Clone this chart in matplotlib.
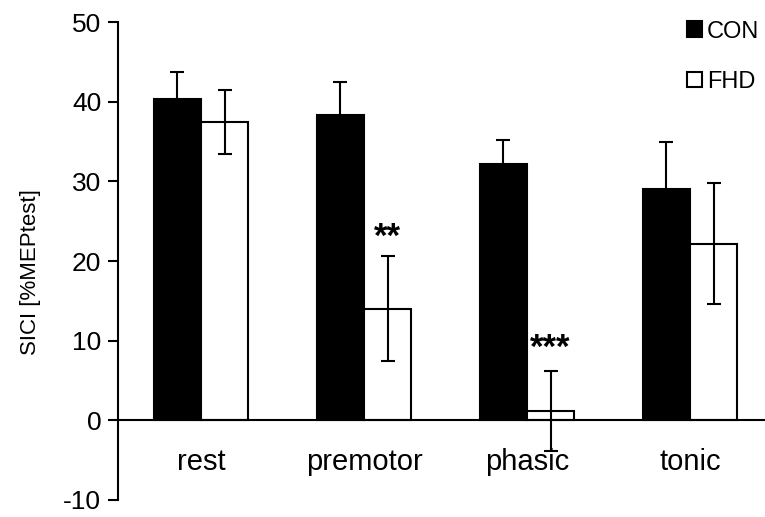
import matplotlib
matplotlib.use("Agg")
import matplotlib.pyplot as plt
import numpy as np

plt.rcParams['font.family'] = ['Liberation Sans', 'DejaVu Sans']
plt.rcParams['axes.unicode_minus'] = False

# values
conditions = ['rest', 'premotor', 'phasic', 'tonic']
con_mean = [40.4, 38.3, 32.2, 29.0]
con_err = [3.3, 4.2, 3.0, 5.9]
fhd_mean = [37.5, 14.0, 1.2, 22.2]
fhd_err = [4.0, 6.6, 5.0, 7.6]
stars = ['', '**', '***', '']
star_y = [0, 23.0, 9.0, 0]

fig = plt.figure(figsize=(7.65, 5.17), dpi=100)
ax = fig.add_axes([0.154, 0.033, 0.846, 0.924])

x = np.arange(len(conditions))
w = 0.29
err_kw = dict(elinewidth=1.5, capsize=5, capthick=1.5, ecolor='black')
ax.bar(x - w / 2, con_mean, w, yerr=con_err, color='black', edgecolor='black',
       linewidth=1.5, label='CON', error_kw=err_kw)
ax.bar(x + w / 2, fhd_mean, w, yerr=fhd_err, color='white', edgecolor='black',
       linewidth=1.5, label='FHD', error_kw=err_kw)

for i, s in enumerate(stars):
    if s:
        ax.text(x[i] + w / 2, star_y[i], s, ha='center', va='center',
                fontsize=25, fontweight='bold')

ax.set_xlim(-0.51, 3.46)
ax.set_ylim(-10, 50)
ax.set_yticks(np.arange(-10, 51, 10))
ax.tick_params(axis='y', labelsize=19, direction='out', length=7, width=1.5, pad=5)
ax.tick_params(axis='x', length=0, labelsize=21, pad=20)
ax.set_xticks(x)
ax.set_xticklabels(conditions)

ax.spines['top'].set_visible(False)
ax.spines['right'].set_visible(False)
ax.spines['bottom'].set_position(('data', 0))
ax.spines['bottom'].set_linewidth(1.5)
ax.spines['left'].set_linewidth(1.5)
ax.set_ylabel('SICI [%MEPtest]', fontsize=16)
ax.yaxis.set_label_coords(-0.118, 0.477)

ax.legend(loc='upper right', bbox_to_anchor=(1.024, 1.048), frameon=False,
          fontsize=17, handlelength=0.65, handleheight=0.65, handletextpad=0.2,
          labelspacing=1.2)

fig.savefig('out.png', dpi=100)
